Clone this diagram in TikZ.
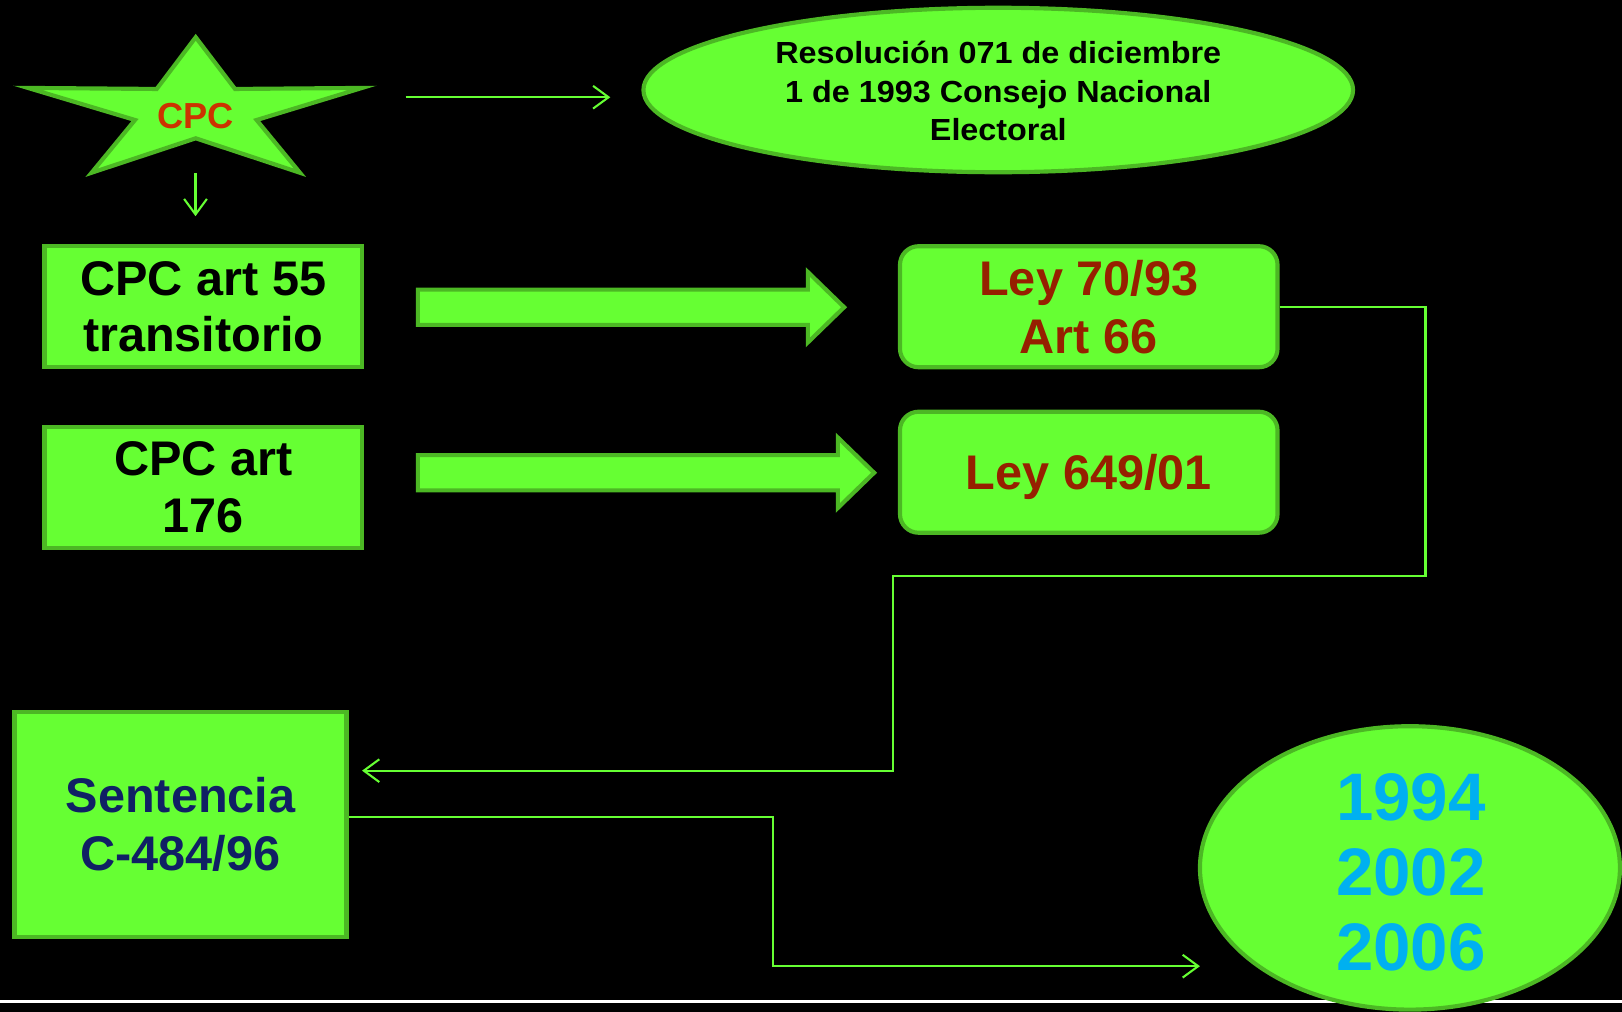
\documentclass[tikz,border=0pt]{standalone}
\usepackage{fontspec}
\setmainfont{Liberation Sans}
\newfontfamily\widesans[FakeStretch=1.06]{Liberation Sans}
\usetikzlibrary{arrows.meta,shapes.geometric}
\definecolor{fillg}{RGB}{102,255,51}
\definecolor{edgeg}{RGB}{76,184,36}
\definecolor{lineg}{RGB}{102,255,51}
\definecolor{cpcred}{RGB}{204,51,0}
\definecolor{leyred}{RGB}{150,32,0}
\definecolor{navyblue}{RGB}{16,32,100}
\definecolor{yearblue}{RGB}{0,176,240}
\begin{document}
\begin{tikzpicture}[x=1pt,y=-1pt,
  greenshape/.style={fill=fillg,draw=edgeg,line width=4pt},
  sqbox/.style={greenshape,rectangle,inner sep=0pt,minimum width=307pt,minimum height=117pt,align=center,
     font=\fontsize{47}{55}\selectfont\bfseries},
  leybox/.style={greenshape,rectangle,rounded corners=18pt,inner sep=0pt,minimum width=365pt,minimum height=117pt,
     align=center,text=leyred,font=\fontsize{47}{56}\selectfont\bfseries},
  ovalshape/.style={greenshape,ellipse,inner sep=0pt},
  fatarrow/.style={fill=fillg,draw=edgeg,line width=4pt,line join=miter},
  conn/.style={draw=lineg,line width=2pt},
  connarrow/.style={conn,-{Straight Barb[length=15pt,width=22pt]}}
]
\fill[black] (0,0) rectangle (1568,978);
\useasboundingbox (0,0) rectangle (1568,978);
% white bottom rule
\draw[white,line width=2.5pt] (0,968) -- (1568,968);

% star
\draw[greenshape,line join=miter,miter limit=20]
  (189.2,36) -- (227.2,86) -- (350,85) -- (248.1,116) -- (290,167)
  -- (189.2,133.7) -- (88.5,167) -- (130.5,116) -- (27,85) -- (151.5,86) -- cycle;
\node[text=cpcred,font=\fontsize{35}{40}\selectfont\bfseries] (cpc) at (189,112) {CPC};

% top ellipse
\node[ovalshape,minimum width=686pt,minimum height=159pt] (res) at (965,87) {};
\node[align=center,font=\widesans\fontsize{29.5}{37}\selectfont\bfseries] (restext) at (965,88)
  {Resolución 071 de diciembre\\1 de 1993 Consejo Nacional\\Electoral};

% left boxes
\node[sqbox] (art55) at (196.5,296.5) {CPC art 55\\transitorio};
\node[sqbox] (art176) at (196.5,471) {CPC art\\176};

% right rounded boxes
\node[leybox] (ley70) at (1052.5,296.5) {Ley 70/93\\Art 66};
\node[leybox,text depth=0pt] (ley649) at (1052.5,456.5) {Ley 649/01};

% Sentencia
\node[greenshape,rectangle,inner sep=0pt,minimum width=321pt,minimum height=218pt,align=center,
  text=navyblue,font=\fontsize{47}{56}\selectfont\bfseries] (sent) at (174.5,797) {Sentencia\\C-484/96};

% years ellipse
\node[ovalshape,minimum width=406pt,minimum height=274pt] (years) at (1363,839) {};
\node[align=center,text=yearblue,font=\fontsize{65}{72.5}\selectfont\bfseries] (yearstext) at (1364,843)
  {1994\\2002\\2006};

% fat arrows
\draw[fatarrow] (404,280) -- (781,280) -- (781,263) -- (816,297) -- (781,331) -- (781,314) -- (404,314) -- cycle;
\draw[fatarrow] (404,440) -- (810,440) -- (810,423) -- (845,457) -- (810,491) -- (810,474) -- (404,474) -- cycle;

% thin connectors
\coordinate (starout) at (392,94);
\coordinate (resin) at (590,94);
\coordinate (stardown) at (189,167);
\coordinate (boxin) at (189,209);
\coordinate (sentin) at (350,745);
\coordinate (yearsin) at (1160,934);
\draw[connarrow] (starout) -- (resin);
\draw[connarrow] (stardown) -- (boxin);
\draw[connarrow] (ley70.east) -- (1378,296.5) |- (863,557) |- (sentin);
\draw[connarrow] (sent.east |- 0,790) -| (747,934) -- (yearsin);
\end{tikzpicture}
\end{document}
